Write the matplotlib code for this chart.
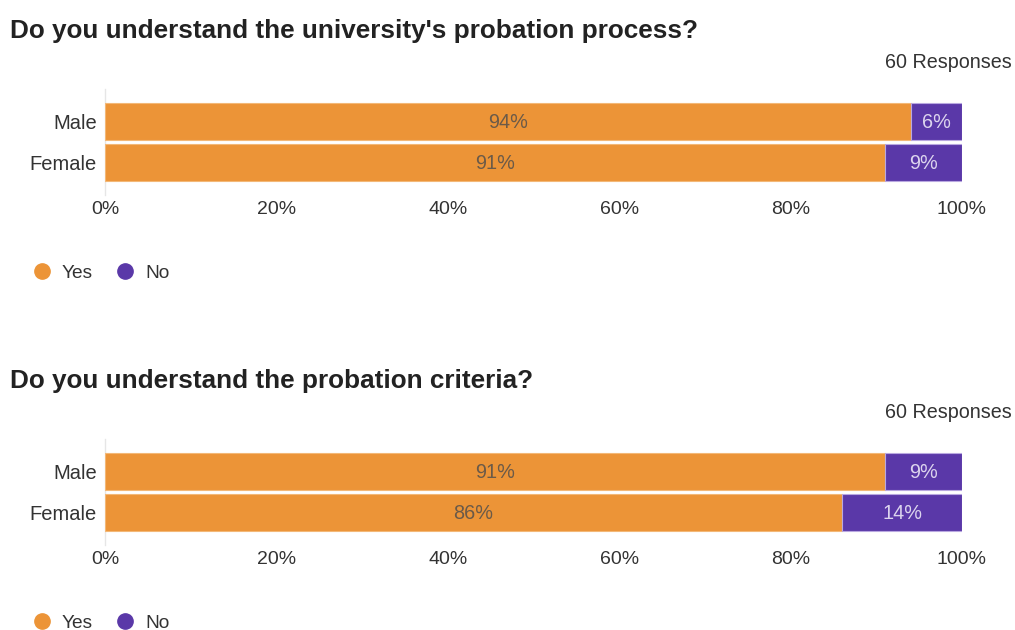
import matplotlib.pyplot as plt
from matplotlib.lines import Line2D

plt.rcParams['font.family'] = ['Liberation Sans', 'DejaVu Sans']

groups = ['Male', 'Female']
answers = ['Yes', 'No']

q1_title = "Do you understand the university's probation process?"
q1_yes = [94, 91]
q1_no = [6, 9]

q2_title = "Do you understand the probation criteria?"
q2_yes = [91, 86]
q2_no = [9, 14]

responses = 60
x_ticks = [0, 20, 40, 60, 80, 100]

ORANGE = '#EC9437'
PURPLE = '#5A38A8'
W, H = 1015, 630


def px_axes(fig, left, top, right, bottom):
    return fig.add_axes([left / W, 1 - bottom / H, (right - left) / W, (bottom - top) / H])


def draw_question(fig, title, yes, no, top):
    fig.text(10 / W, 1 - (top - 70) / H, title, fontsize=18.8, fontweight='bold',
             color='#222222', va='center', ha='left')
    fig.text(1012 / W, 1 - (top - 39) / H, f'{responses} Responses', fontsize=14.2,
             color='#333333', va='center', ha='right')

    ax = px_axes(fig, 105, top, 962, top + 82)
    y = list(range(len(groups)))
    ax.barh(y, yes, height=0.9, color=ORANGE, edgecolor='#F3B877', linewidth=0.8)
    ax.barh(y, no, left=yes, height=0.9, color=PURPLE, edgecolor='#B9A8E0', linewidth=0.8)
    for i in y:
        ax.text(yes[i] / 2, i + 0.03, f'{yes[i]}%', ha='center', va='center',
                fontsize=14.3, color='#6b5a48')
        ax.text(yes[i] + no[i] / 2, i + 0.03, f'{no[i]}%', ha='center', va='center',
                fontsize=14.3, color='#dcd4ee')

    ax.set_xlim(0, 100)
    ax.set_ylim(len(groups) - 0.5, -0.5)
    ax.set_yticks(y)
    ax.set_yticklabels(groups, fontsize=14.5, color='#333333')
    ax.set_xticks(x_ticks)
    ax.set_xticklabels([f'{t}%' for t in x_ticks], fontsize=14, color='#333333')
    ax.tick_params(length=0, pad=6)
    ax.tick_params(axis='x', pad=13)
    for s in ax.spines.values():
        s.set_visible(False)
    ax.axvline(0, color='#e6e6e6', linewidth=1, zorder=0, ymin=-0.15, ymax=1.15, clip_on=False)

    handles = [Line2D([], [], marker='o', linestyle='', markersize=11,
                      markerfacecolor=c, markeredgecolor=c)
               for c in (ORANGE, PURPLE)]
    fig.legend(handles, answers, loc='center left', ncol=2, frameon=False,
               bbox_to_anchor=(15 / W, 1 - (top + 172) / H), fontsize=13.8,
               handletextpad=0.55, columnspacing=1.18, handlelength=1.0,
               labelcolor='#333333')


fig = plt.figure(figsize=(W / 100, H / 100), dpi=100)
draw_question(fig, q1_title, q1_yes, q1_no, 101)
draw_question(fig, q2_title, q2_yes, q2_no, 451)
fig.savefig('out.png', dpi=100)
